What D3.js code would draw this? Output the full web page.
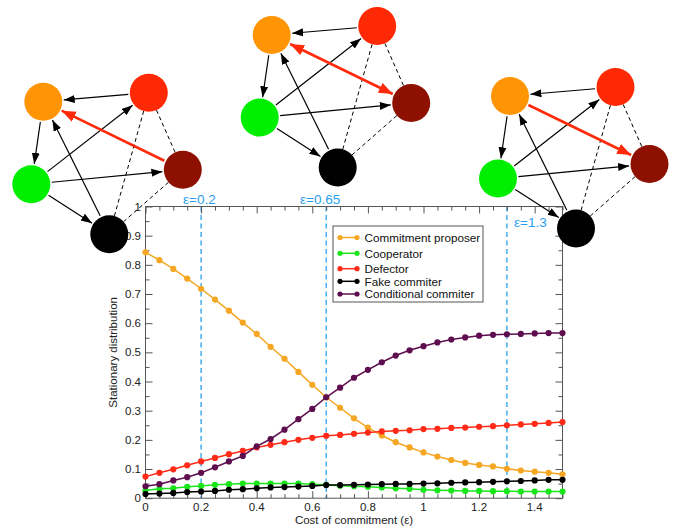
<!DOCTYPE html>
<html>
<head>
<meta charset="utf-8">
<script src="https://cdn.jsdelivr.net/npm/d3@7"></script>
<style>
  html, body { margin: 0; padding: 0; background: #fff; }
  svg { display: block; font-family: "Liberation Sans", Arial, Helvetica, sans-serif; }
</style>
</head>
<body>
<svg id="chart" width="681" height="527"></svg>
<script>
// ---------------- DATA ----------------
const costs = d3.range(0, 31).map(i => +(i * 0.05).toFixed(2)); // 0 .. 1.5 step 0.05 (x grid of the simulation)
const commitmentProposer = [0.843,0.816,0.786,0.753,0.718,0.681,0.643,0.602,0.563,0.519,0.478,0.433,0.389,0.346,0.310,0.274,0.242,0.215,0.192,0.174,0.157,0.143,0.131,0.121,0.114,0.109,0.101,0.095,0.091,0.087,0.082];
const cooperator = [0.026,0.032,0.034,0.039,0.042,0.046,0.048,0.050,0.050,0.050,0.050,0.050,0.048,0.046,0.043,0.041,0.039,0.037,0.034,0.032,0.029,0.027,0.026,0.025,0.025,0.024,0.024,0.023,0.023,0.023,0.023];
const defector = [0.074,0.087,0.099,0.113,0.126,0.138,0.151,0.162,0.174,0.183,0.192,0.200,0.207,0.214,0.217,0.221,0.225,0.229,0.231,0.233,0.237,0.238,0.241,0.242,0.245,0.247,0.250,0.253,0.255,0.258,0.261];
const fakeCommitter = [0.014,0.016,0.018,0.021,0.023,0.025,0.029,0.031,0.034,0.037,0.038,0.040,0.042,0.045,0.045,0.046,0.047,0.048,0.049,0.049,0.050,0.051,0.053,0.054,0.055,0.056,0.058,0.059,0.061,0.063,0.063];
const conditionalCommitter = [0.041,0.048,0.061,0.072,0.087,0.106,0.126,0.145,0.178,0.203,0.235,0.271,0.306,0.346,0.379,0.413,0.440,0.466,0.489,0.507,0.521,0.534,0.544,0.551,0.557,0.560,0.562,0.563,0.565,0.566,0.566];

const seriesNames = ["Commitment proposer","Cooperator","Defector","Fake commiter","Conditional commiter"];
const seriesValues = [commitmentProposer, cooperator, defector, fakeCommitter, conditionalCommitter];

const xTickValues = [0, 0.2, 0.4, 0.6, 0.8, 1, 1.2, 1.4];
const yTickValues = [0, 0.1, 0.2, 0.3, 0.4, 0.5, 0.6, 0.7, 0.8, 0.9, 1];
const epsilonMarks = [0.2, 0.65, 1.3];
const epsilonLabels = ["ε=0.2", "ε=0.65", "ε=1.3"];
const xLabel = "Cost of commitment (ε)";
const yLabel = "Stationary distribution";

// network diagrams: strategies and directed transitions
const strategies = ["proposer", "defector", "conditional", "cooperator", "fake"];
const blackEdges = [["defector","proposer"],["proposer","cooperator"],["cooperator","defector"],["cooperator","conditional"],["cooperator","fake"],["fake","proposer"]];
const dashedEdges = [["defector","fake"],["defector","conditional"],["conditional","fake"]];
const redEdgeDirections = ["toProposer", "both", "toConditional"]; // for eps = 0.2, 0.65, 1.3

// ---------------- STYLE / LAYOUT ----------------
const seriesColors = ["#f5a623", "#19e619", "#ff2a17", "#000000", "#5e0d4f"];
const nodeColors = { proposer: "#ff9505", defector: "#ff2a05", conditional: "#8e1000", cooperator: "#00ee00", fake: "#000000" };
const nodeLayout = { proposer: [0,0], defector: [105.5,-9], conditional: [139.5,68], cooperator: [-12,82.5], fake: [66,132.5] };
const networkOrigins = [[43.3,101.7],[271.7,35],[510,96]];
const nodeR = 19;

const svg = d3.select("#chart");
const plot = { left: 145.5, right: 562.5, top: 206.5, bottom: 498.2 };

const x = d3.scaleLinear().domain([0, 1.5]).range([plot.left, plot.right]);
const y = d3.scaleLinear().domain([0, 1]).range([plot.bottom, plot.top]);

const gPlot = svg.append("g");
gPlot.append("rect").attr("x", plot.left).attr("y", plot.top)
  .attr("width", plot.right - plot.left).attr("height", plot.bottom - plot.top)
  .attr("fill", "#fff");

// epsilon dashed lines
gPlot.selectAll(".eps").data(epsilonMarks).join("line")
  .attr("x1", d => x(d)).attr("x2", d => x(d))
  .attr("y1", plot.top).attr("y2", plot.bottom)
  .attr("stroke", "#2aa0f0").attr("stroke-width", 1.3).attr("stroke-dasharray", "5,3.5");

// axes with ticks inside
const tickColor = "#555";
const minorX = d3.range(0, 31).map(i => i * 0.05);
const minorY = d3.range(0, 21).map(i => i * 0.05);
function isMajor(v, step) { return Math.abs(v / step - Math.round(v / step)) < 1e-6; }

const axB = d3.axisBottom(x).tickValues(minorX).tickSize(-4).tickFormat("");
const axT = d3.axisTop(x).tickValues(minorX).tickSize(-4).tickFormat("");
const axL = d3.axisLeft(y).tickValues(minorY).tickSize(-4).tickFormat("");
const axR = d3.axisRight(y).tickValues(minorY).tickSize(-4).tickFormat("");

function styleAxis(g) {
  g.select(".domain").remove();
  g.selectAll(".tick line").attr("stroke", tickColor).attr("stroke-width", 1);
}
gPlot.append("g").attr("transform", `translate(0,${plot.bottom})`).call(axB).call(styleAxis)
  .selectAll(".tick line").attr("y2", d => isMajor(d, 0.2) ? -7 : -4);
gPlot.append("g").attr("transform", `translate(0,${plot.top})`).call(axT).call(styleAxis)
  .selectAll(".tick line").attr("y2", d => isMajor(d, 0.2) ? 7 : 4);
gPlot.append("g").attr("transform", `translate(${plot.left},0)`).call(axL).call(styleAxis)
  .selectAll(".tick line").attr("x2", d => isMajor(d, 0.1) ? 7 : 4);
gPlot.append("g").attr("transform", `translate(${plot.right},0)`).call(axR).call(styleAxis)
  .selectAll(".tick line").attr("x2", d => isMajor(d, 0.1) ? -7 : -4);

// tick labels
const fmt = v => (v === 0 ? "0" : v === 1 ? "1" : d3.format("")(+v.toFixed(1)));
gPlot.selectAll(".xl").data(xTickValues).join("text")
  .attr("x", d => x(d)).attr("y", 510.5).attr("text-anchor", "middle")
  .attr("font-size", 11.5).attr("fill", "#222").text(fmt);
gPlot.selectAll(".yl").data(yTickValues).join("text")
  .attr("x", 141).attr("y", d => y(d) + 4).attr("text-anchor", "end")
  .attr("font-size", 11.5).attr("fill", "#222").text(fmt);

gPlot.append("text").attr("x", x(0.75)).attr("y", 524).attr("text-anchor", "middle")
  .attr("font-size", 11.5).attr("fill", "#222").text(xLabel);
gPlot.append("text").attr("transform", `translate(117,${(plot.top + plot.bottom)/2}) rotate(-90)`)
  .attr("text-anchor", "middle").attr("font-size", 11.5).attr("fill", "#222").text(yLabel);

// frame
gPlot.append("rect").attr("x", plot.left).attr("y", plot.top)
  .attr("width", plot.right - plot.left).attr("height", plot.bottom - plot.top)
  .attr("fill", "none").attr("stroke", tickColor).attr("stroke-width", 1);

// series
const line = d3.line().x((d, i) => x(costs[i])).y(d => y(d));
seriesValues.forEach((vals, si) => {
  const g = gPlot.append("g");
  g.append("path").datum(vals).attr("d", line).attr("fill", "none")
    .attr("stroke", seriesColors[si]).attr("stroke-width", 1.5);
  g.selectAll("circle").data(vals).join("circle")
    .attr("cx", (d, i) => x(costs[i])).attr("cy", d => y(d)).attr("r", 3.1)
    .attr("fill", seriesColors[si]);
});

// epsilon labels
const epsLabelPos = [[183, 204], [300, 204], [514, 227]];
svg.selectAll(".epsl").data(epsilonLabels).join("text")
  .attr("x", (d, i) => epsLabelPos[i][0]).attr("y", (d, i) => epsLabelPos[i][1])
  .attr("font-size", 13.5).attr("fill", "#2aa0f0").text(d => d);

// legend
const legend = svg.append("g");
legend.append("rect").attr("x", 333).attr("y", 226).attr("width", 150).attr("height", 76)
  .attr("fill", "#fff").attr("stroke", "#555").attr("stroke-width", 1);
const legendYs = [237.5, 253.3, 268.7, 281.3, 294];
seriesNames.forEach((name, i) => {
  const ly = legendYs[i];
  legend.append("line").attr("x1", 340).attr("x2", 357).attr("y1", ly).attr("y2", ly)
    .attr("stroke", seriesColors[i]).attr("stroke-width", 1.5);
  [340, 357].forEach(cx => legend.append("circle").attr("cx", cx).attr("cy", ly).attr("r", 2.6).attr("fill", seriesColors[i]));
  legend.append("text").attr("x", 364.5).attr("y", ly + 4.2).attr("font-size", 11.7).attr("fill", "#111").text(name);
});

// ---------------- NETWORK DIAGRAMS ----------------
const defs = svg.append("defs");
defs.append("marker").attr("id", "arrBlack").attr("markerUnits", "userSpaceOnUse")
  .attr("viewBox", "0 -5 12 10").attr("refX", 11).attr("refY", 0)
  .attr("markerWidth", 12).attr("markerHeight", 10).attr("orient", "auto-start-reverse")
  .append("path").attr("d", "M0,-4L11,0L0,4Z").attr("fill", "#000");
defs.append("marker").attr("id", "arrRed").attr("markerUnits", "userSpaceOnUse")
  .attr("viewBox", "0 -6 15 12").attr("refX", 14).attr("refY", 0)
  .attr("markerWidth", 15).attr("markerHeight", 12).attr("orient", "auto-start-reverse")
  .append("path").attr("d", "M0,-5.5L14,0L0,5.5Z").attr("fill", "#ff2a0a");

function endpoints(p, q, gap) {
  const dx = q[0] - p[0], dy = q[1] - p[1], L = Math.hypot(dx, dy);
  const ux = dx / L, uy = dy / L;
  return [p[0] + ux * (nodeR + gap), p[1] + uy * (nodeR + gap), q[0] - ux * (nodeR + gap), q[1] - uy * (nodeR + gap)];
}

networkOrigins.forEach((o, ni) => {
  const pos = {};
  strategies.forEach(s => pos[s] = [o[0] + nodeLayout[s][0], o[1] + nodeLayout[s][1]]);
  const g = svg.append("g");
  dashedEdges.forEach(([a, b]) => {
    const e = endpoints(pos[a], pos[b], 0);
    g.append("line").attr("x1", e[0]).attr("y1", e[1]).attr("x2", e[2]).attr("y2", e[3])
      .attr("stroke", "#000").attr("stroke-width", 1).attr("stroke-dasharray", "4,3");
  });
  blackEdges.forEach(([a, b]) => {
    const e = endpoints(pos[a], pos[b], 1.5);
    g.append("line").attr("x1", e[0]).attr("y1", e[1]).attr("x2", e[2]).attr("y2", e[3])
      .attr("stroke", "#000").attr("stroke-width", 1.2).attr("marker-end", "url(#arrBlack)");
  });
  const dir = redEdgeDirections[ni];
  const e = endpoints(pos.conditional, pos.proposer, 1.5);
  const red = g.append("line").attr("x1", e[0]).attr("y1", e[1]).attr("x2", e[2]).attr("y2", e[3])
    .attr("stroke", "#ff2a0a").attr("stroke-width", 2.6);
  if (dir === "toProposer" || dir === "both") red.attr("marker-end", "url(#arrRed)");
  if (dir === "toConditional" || dir === "both") red.attr("marker-start", "url(#arrRed)");
  strategies.forEach(s => {
    g.append("circle").attr("cx", pos[s][0]).attr("cy", pos[s][1]).attr("r", nodeR).attr("fill", nodeColors[s]);
  });
});
</script>
</body>
</html>
